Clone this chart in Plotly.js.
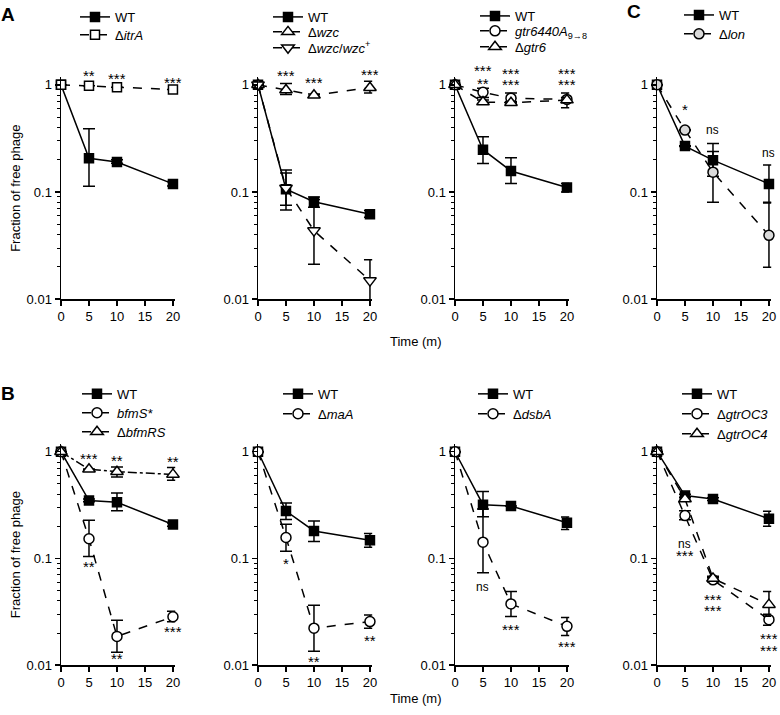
<!DOCTYPE html>
<html>
<head>
<meta charset="utf-8">
<script src="https://cdn.plot.ly/plotly-3.0.1.min.js"></script>
<style>body{margin:0}#chart{width:780px;height:715px}</style>
</head>
<body>
<div id="chart"></div>
<script>
const time=[0,5,10,20];

// A, left: itrA
const a1WT=[1,0.206,0.19,0.119], a1WThi=[1,0.39,0.2,0.125], a1WTlo=[1,0.113,0.185,0.114];
const a1Itr=[1,0.98,0.95,0.905];
// A, middle: wzc
const a2WT=[1,0.106,0.081,0.062], a2WThi=[1,0.16,0.09,0.067], a2WTlo=[1,0.075,0.072,0.058];
const a2Wzc=[1,0.895,0.8,0.94], a2Wzchi=[1,1.03,0.82,1.08], a2Wzclo=[1,0.81,0.78,0.84];
const a2Comp=[1,0.109,0.0436,0.0149], a2Comphi=[1,0.15,0.085,0.0233], a2Complo=[1,0.068,0.0212,0.0093];
// A, right: gtr6
const a3WT=[1,0.248,0.157,0.11], a3WThi=[1,0.327,0.209,0.12], a3WTlo=[1,0.184,0.12,0.1];
const a3Pt=[1,0.85,0.75,0.73], a3Pthi=[1,0.93,0.84,0.84], a3Ptlo=[1,0.76,0.68,0.61];
const a3Del=[1,0.69,0.68,0.72], a3Delhi=[1,0.72,0.7,0.76], a3Dello=[1,0.66,0.66,0.68];
// C: lon
const cWT=[1,0.268,0.198,0.119], cWThi=[1,0.27,0.284,0.179], cWTlo=[1,0.265,0.14,0.08];
const cLon=[1,0.378,0.153,0.0394], cLonhi=[1,0.38,0.238,0.079], cLonlo=[1,0.375,0.08,0.0198];
// B, 1: bfmRS
const b1WT=[1,0.349,0.336,0.208], b1WThi=[1,0.36,0.41,0.215], b1WTlo=[1,0.34,0.28,0.2];
const b1S=[1,0.153,0.0186,0.0284], b1Shi=[1,0.228,0.0264,0.032], b1Slo=[1,0.104,0.0132,0.0255];
const b1RS=[1,0.684,0.65,0.613], b1RShi=[1,0.69,0.72,0.71], b1RSlo=[1,0.68,0.58,0.54];
// B, 2
const b2WT=[1,0.278,0.181,0.148], b2WThi=[1,0.331,0.224,0.171], b2WTlo=[1,0.232,0.144,0.127];
const b2Rna=[1,0.157,0.0222,0.0256], b2Rnahi=[1,0.209,0.0365,0.0295], b2Rnalo=[1,0.117,0.0135,0.0222];
// B, 3: dsbA
const b3WT=[1,0.319,0.31,0.216], b3WThi=[1,0.425,0.31,0.244], b3WTlo=[1,0.246,0.31,0.187];
const b3Dsb=[1,0.142,0.0375,0.0231], b3Dsbhi=[1,0.291,0.049,0.028], b3Dsblo=[1,0.0733,0.0286,0.019];
// B, 4: gtrOC
const b4WT=[1,0.388,0.361,0.235], b4WThi=[1,0.4,0.37,0.277], b4WTlo=[1,0.375,0.35,0.2];
const b4OC3=[1,0.252,0.063,0.0267], b4OC3hi=[1,0.28,0.066,0.03], b4OC3lo=[1,0.23,0.06,0.0237];
const b4OC4=[1,0.361,0.065,0.0369], b4OC4hi=[1,0.37,0.068,0.049], b4OC4lo=[1,0.35,0.062,0.0287];

// significance labels: [panel, time, value, text]
const sig=[
  [1,5,1.265,'**'],[1,10,1.187,'***'],[1,20,1.089,'***'],
  [2,5,1.265,'***'],[2,10,1.089,'***'],[2,20,1.293,'***'],
  [3,5,1.409,'***'],[3,5,1.066,'**'],[3,10,1.321,'***'],[3,10,1.044,'***'],[3,20,1.321,'***'],[3,20,1.044,'***'],
  [4,5,0.611,'*'],[4,10,0.381,'ns'],[4,20,0.233,'ns'],
  [5,5,0.898,'***'],[5,10,0.86,'**'],[5,20,0.842,'**'],[5,5,0.086,'**'],[5,10,0.01188,'**'],[5,20,0.0212,'***'],
  [6,5,0.0917,'*'],[6,10,0.01113,'**'],[6,20,0.0175,'**'],
  [7,5,0.0536,'ns'],[7,10,0.0222,'***'],[7,20,0.01538,'***'],
  [8,5,0.138,'ns'],[8,5,0.111,'***'],[8,10,0.0423,'***'],[8,10,0.0334,'***'],[8,20,0.01827,'***'],[8,20,0.01412,'***']
];

const W=780,H=715;
const sfx=n=>n>1?String(n):'';

// panel frames in pixels
const lefts=[61,258,455,657];
const rows=[{top:75.5,bottom:298},{top:443.5,bottom:665}];
const legX=[75,268,475,679,77,278,473,677];
const plotW=114.2;
// legend row centres, one per trace in order
const legY=[15,33, 15,30,46, 14,29,45, 13,32, 393,412,431, 393,413, 393,413, 393,413,433];

let legCount=0;
const legends=[];
function tr(n,name,y,hi,lo,sym,fill,dash){
  hi=hi||y; lo=lo||y;
  const id='legend'+(legCount?String(legCount+1):'');
  legends.push({id:id,x:legX[n-1],y:legY[legCount]});
  legCount++;
  return {
    x:time,y:y,name:name,type:'scatter',mode:'lines+markers',showlegend:true,
    xaxis:'x'+sfx(n),yaxis:'y'+sfx(n),legend:id,cliponaxis:false,
    line:{color:'black',width:1.5,dash:dash},
    marker:{symbol:sym,size:sym==='square'?9:(sym==='circle'?10:11),color:fill,line:{color:'black',width:1.5}},
    error_y:{type:'data',symmetric:false,array:hi.map((h,i)=>h-y[i]),arrayminus:y.map((v,i)=>v-lo[i]),
      color:'black',thickness:1.5,width:6}
  };
}

const data=[
  tr(1,'WT',a1WT,a1WThi,a1WTlo,'square','black','solid'),
  tr(1,'Δ<i>itrA</i>',a1Itr,null,null,'square','white','dash'),
  tr(2,'WT',a2WT,a2WThi,a2WTlo,'square','black','solid'),
  tr(2,'Δ<i>wzc</i>',a2Wzc,a2Wzchi,a2Wzclo,'triangle-up','white','dash'),
  tr(2,'Δ<i>wzc</i>/<i>wzc</i><sup>+</sup>',a2Comp,a2Comphi,a2Complo,'triangle-down','white','dash'),
  tr(3,'WT',a3WT,a3WThi,a3WTlo,'square','black','solid'),
  tr(3,'<i>gtr6440A</i><sub>9→8</sub>',a3Pt,a3Pthi,a3Ptlo,'circle','white','dash'),
  tr(3,'Δ<i>gtr6</i>',a3Del,a3Delhi,a3Dello,'triangle-up','white','dash'),
  tr(4,'WT',cWT,cWThi,cWTlo,'square','black','solid'),
  tr(4,'Δ<i>lon</i>',cLon,cLonhi,cLonlo,'circle','#d9d9d9','dash'),
  tr(5,'WT',b1WT,b1WThi,b1WTlo,'square','black','solid'),
  tr(5,'<i>bfmS*</i>',b1S,b1Shi,b1Slo,'circle','white','dash'),
  tr(5,'Δ<i>bfmRS</i>',b1RS,b1RShi,b1RSlo,'triangle-up','white','dashdot'),
  tr(6,'WT',b2WT,b2WThi,b2WTlo,'square','black','solid'),
  tr(6,'Δ<i>maA</i>',b2Rna,b2Rnahi,b2Rnalo,'circle','white','dash'),
  tr(7,'WT',b3WT,b3WThi,b3WTlo,'square','black','solid'),
  tr(7,'Δ<i>dsbA</i>',b3Dsb,b3Dsbhi,b3Dsblo,'circle','white','dash'),
  tr(8,'WT',b4WT,b4WThi,b4WTlo,'square','black','solid'),
  tr(8,'Δ<i>gtrOC3</i>',b4OC3,b4OC3hi,b4OC3lo,'circle','white','dash'),
  tr(8,'Δ<i>gtrOC4</i>',b4OC4,b4OC4hi,b4OC4lo,'triangle-up','white','dash')
];

const minorVals=[];
[0.01,0.1].forEach(d=>{for(let k=2;k<=9;k++)minorVals.push(d*k);});

const layout={
  width:W,height:H,margin:{l:0,r:0,t:0,b:0},showlegend:true,
  paper_bgcolor:'white',plot_bgcolor:'white',
  font:{family:'Liberation Sans, Arial, sans-serif',size:13,color:'black'},
  annotations:[]
};

for(let n=1;n<=8;n++){
  const col=(n-1)%4,row=rows[n>4?1:0],s=sfx(n);
  const x0=lefts[col];
  layout['xaxis'+s]={
    domain:[x0/W,(x0+plotW)/W],range:[0,20.4],anchor:'y'+s,
    tickvals:[0,5,10,15,20],ticks:'outside',ticklen:5,tickwidth:1.5,tickcolor:'black',
    showline:true,linewidth:1.5,linecolor:'black',showgrid:false,zeroline:false,
    tickfont:{size:13}
  };
  layout['yaxis'+s]={
    type:'log',domain:[1-row.bottom/H,1-row.top/H],range:[-2,0.07],anchor:'x'+s,
    tickvals:[0.01,0.1,1],ticktext:['0.01','0.1','1'],ticks:'outside',ticklen:5,tickwidth:1.5,tickcolor:'black',
    minor:{tickvals:minorVals,ticks:'outside',ticklen:3,tickwidth:1,tickcolor:'black'},
    showline:true,linewidth:1.5,linecolor:'black',showgrid:false,zeroline:false,
    tickfont:{size:13}
  };
  if(col===0){
    layout['yaxis'+s].title={text:'Fraction of free phage',font:{size:13},standoff:3};
  }
}

legends.forEach(l=>{
  layout[l.id]={
    x:l.x/W,y:1-l.y/H,xanchor:'left',yanchor:'middle',visible:true,
    bgcolor:'rgba(0,0,0,0)',font:{size:13,color:'black'},tracegroupgap:0,itemclick:false,itemdoubleclick:false
  };
});

// stars may sit above the axis range, so place them in paper space
function paperY(n,v){
  const row=rows[n>4?1:0];
  const frac=(Math.log10(v)+2)/2.07;
  return 1-(row.bottom-frac*(row.bottom-row.top))/H;
}
sig.forEach(([n,t,v,txt])=>{
  const star=txt.indexOf('*')>=0;
  layout.annotations.push({
    xref:'x'+sfx(n),yref:'paper',x:t,y:paperY(n,v),text:txt,showarrow:false,
    xanchor:'center',yanchor:'middle',height:10,valign:'middle',
    font:{size:star?15:12,color:'black'},yshift:star?-1:0
  });
});

[['A',8,13],['B',8,393],['C',634,10]].forEach(([t,x,y])=>{
  layout.annotations.push({xref:'paper',yref:'paper',x:x/W,y:1-y/H,text:'<b>'+t+'</b>',
    showarrow:false,font:{size:19},xanchor:'center',yanchor:'middle'});
});
[340,698].forEach(y=>{
  layout.annotations.push({xref:'paper',yref:'paper',x:416/W,y:1-y/H,text:'Time (m)',
    showarrow:false,font:{size:13},xanchor:'center',yanchor:'middle'});
});

Plotly.newPlot('chart',data,layout,{displayModeBar:false,staticPlot:true});
</script>
</body>
</html>
